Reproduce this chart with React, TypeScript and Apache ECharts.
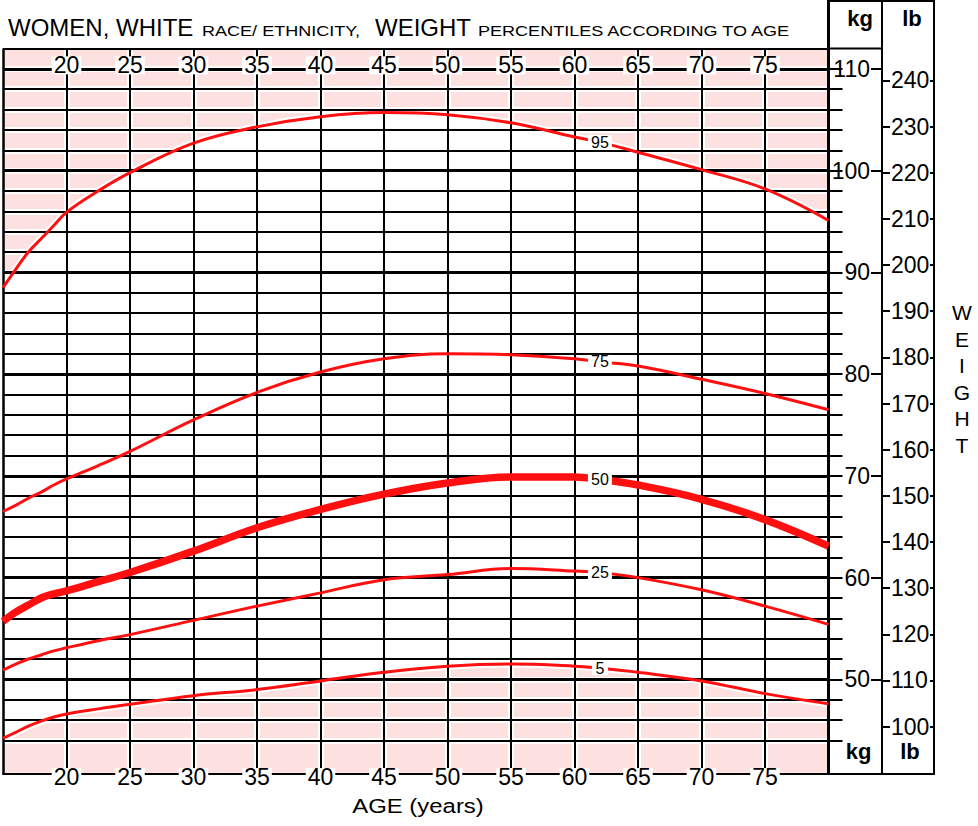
import React, { useEffect, useRef } from 'react';
import * as echarts from 'echarts';

// ---- data ----
const ages = [15, 16, 17, 18, 19, 20, 22.5, 25, 30, 35, 40, 45, 50, 55, 60, 62, 65, 70, 75, 80];
const p95 = [88.5, 90.3, 92.0, 93.3, 94.6, 95.9, 98.0, 99.8, 102.7, 104.3, 105.3, 105.7, 105.5, 104.7, 103.3, 102.8, 101.8, 100.1, 98.2, 95.1];
const p75 = [66.5, 67.1, 67.8, 68.4, 69.1, 69.7, 71.0, 72.4, 75.5, 78.2, 80.2, 81.5, 82.0, 81.9, 81.5, 81.2, 80.8, 79.5, 78.1, 76.5];
const p50 = [55.7, 56.6, 57.3, 58.0, 58.4, 58.7, 59.6, 60.5, 62.6, 64.9, 66.7, 68.2, 69.3, 69.9, 69.9, 69.65, 69.1, 67.7, 65.7, 63.1];
const p25 = [50.9, 51.5, 52.0, 52.4, 52.8, 53.1, 53.8, 54.4, 55.8, 57.2, 58.5, 59.8, 60.3, 60.9, 60.65, 60.5, 60.0, 58.8, 57.2, 55.4];
const p5 = [44.2, 44.8, 45.4, 45.9, 46.3, 46.6, 47.1, 47.55, 48.4, 49.0, 49.85, 50.7, 51.3, 51.5, 51.3, 51.1, 50.7, 49.85, 48.6, 47.6];
const percentileNames = ['95', '75', '50', '25', '5'];
const LABEL_AGE = 62;

const ageTicks = [20, 25, 30, 35, 40, 45, 50, 55, 60, 65, 70, 75];
const kgTicks = [50, 60, 70, 80, 90, 100, 110];
const lbTicks = [100, 110, 120, 130, 140, 150, 160, 170, 180, 190, 200, 210, 220, 230, 240];

const AGE_MIN = 15;
const AGE_MAX = 80;
const KG_MIN = 40.7;
const KG_MAX = 112;
const LB_PER_KG = 2.20462;

const FONT = "'Liberation Sans', Arial, Helvetica, sans-serif";
const RED = '#ff1010';
const PINK = '#fde0e0';
const BLACK = '#000';
const SMOOTH = 0.4;

export default function App() {
  const ref = useRef<HTMLDivElement>(null);

  useEffect(() => {
    const chart = echarts.init(ref.current!, null, { renderer: 'svg' });

    const W = 978;
    const H = 826;
    const gridTop = 48.5;
    const gridBottomPx = 774;
    const gridLeft = 3;
    const gridRightPx = 828.5;
    const pxPerKg = (gridBottomPx - gridTop) / (KG_MAX - KG_MIN);

    const gridKg: number[] = [];
    for (let v = 44; v <= 110; v += 2) gridKg.push(v);
    const minorKg = gridKg.filter((v) => v % 10 !== 0);

    const solid = (color: string, width: number) => ({ color, width, type: 'solid' as const, opacity: 1 });

    const curve = (name: string, values: number[], width: number, labelW: number) => ({
      type: 'line',
      name,
      z: 10,
      silent: true,
      smooth: SMOOTH,
      symbol: 'none',
      showSymbol: true,
      showAllSymbol: true,
      lineStyle: { color: RED, width },
      emphasis: { disabled: true },
      data: ages.map((a, i) =>
        a === LABEL_AGE
          ? {
              value: [a, values[i]],
              symbol: 'rect',
              symbolSize: [labelW, 14],
              itemStyle: { color: '#fff' },
              label: {
                show: true,
                position: 'inside',
                formatter: name,
                color: BLACK,
                fontSize: 16,
                fontFamily: FONT,
              },
            }
          : [a, values[i]]
      ),
    });

    const pink = (values: number[], origin: 'start' | 'end') => ({
      type: 'line',
      z: 1,
      silent: true,
      smooth: SMOOTH,
      symbol: 'none',
      lineStyle: { color: '#fff', width: 7 },
      areaStyle: { color: PINK, opacity: 1, origin },
      emphasis: { disabled: true },
      data: ages.map((a, i) => [a, values[i]]),
    });

    const markLineBase = {
      silent: true,
      symbol: ['none', 'none'],
      label: { show: false },
      emphasis: { disabled: true },
      animation: false,
    };

    const haloSeries = {
      type: 'line',
      z: 2,
      silent: true,
      symbol: 'none',
      lineStyle: { width: 0 },
      data: [[AGE_MIN, KG_MIN]],
      markLine: {
        ...markLineBase,
        z: 2,
        data: [
          ...gridKg.map((v) => ({ yAxis: v, lineStyle: solid('#fff', 6) })),
          ...ageTicks.map((v) => ({ xAxis: v, lineStyle: solid('#fff', 6) })),
        ],
      },
    };

    const gridSeries = {
      type: 'line',
      z: 3,
      silent: true,
      symbol: 'none',
      lineStyle: { width: 0 },
      data: [[AGE_MIN, KG_MIN]],
      markLine: {
        ...markLineBase,
        z: 3,
        data: [
          ...minorKg.map((v) => ({ yAxis: v, lineStyle: solid(BLACK, 2) })),
          ...kgTicks.map((v) => ({ yAxis: v, lineStyle: solid(BLACK, 3) })),
          ...ageTicks.map((v) => ({ xAxis: v, lineStyle: solid(BLACK, 2) })),
          { xAxis: AGE_MIN, lineStyle: solid(BLACK, 2.5) },
          { xAxis: AGE_MAX, lineStyle: solid(BLACK, 3) },
          { yAxis: KG_MAX, lineStyle: solid(BLACK, 2) },
          { yAxis: KG_MIN, lineStyle: solid(BLACK, 2) },
        ],
      },
    };

    const numLabel = {
      fontSize: 23,
      fontFamily: FONT,
      color: BLACK,
    };

    const xLabel = {
      ...numLabel,
      customValues: ageTicks,
      backgroundColor: '#fff',
      padding: [0, 2],
      lineHeight: 18,
    };

    const yBase = {
      type: 'value',
      min: KG_MIN,
      max: KG_MAX,
      splitLine: { show: false },
      axisLine: { show: false },
    };

    const text = (t: string, x: number, y: number, size: number, opts: any = {}) => ({
      type: 'text',
      x,
      y,
      scaleX: opts.scaleX ?? 1,
      silent: true,
      style: {
        text: t,
        fontSize: size,
        fontFamily: FONT,
        fontWeight: opts.bold ? 'bold' : 'normal',
        fill: BLACK,
        align: opts.align ?? 'left',
        verticalAlign: 'middle',
        textAlign: opts.align ?? 'left',
        textVerticalAlign: 'middle',
        lineHeight: opts.lineHeight,
      },
    });

    const line = (x1: number, y1: number, x2: number, y2: number, w: number) => ({
      type: 'line',
      silent: true,
      shape: { x1, y1, x2, y2 },
      style: { stroke: BLACK, lineWidth: w },
    });

    const option: any = {
      animation: false,
      backgroundColor: '#fff',
      textStyle: { fontFamily: FONT },
      grid: {
        left: gridLeft,
        right: W - gridRightPx,
        top: gridTop,
        bottom: H - gridBottomPx,
        containLabel: false,
        outerBoundsMode: 'none',
      },
      xAxis: [
        {
          type: 'value',
          min: AGE_MIN,
          max: AGE_MAX,
          interval: 5,
          position: 'bottom',
          z: 12,
          axisLine: { show: true, lineStyle: { color: BLACK, width: 2 } },
          axisTick: { show: false },
          splitLine: { show: false },
          axisLabel: { ...xLabel, margin: -6 },
        },
        {
          type: 'value',
          min: AGE_MIN,
          max: AGE_MAX,
          interval: 5,
          position: 'top',
          offset: -(KG_MAX - 110) * pxPerKg,
          z: 12,
          axisLine: { show: false },
          axisTick: { show: false },
          splitLine: { show: false },
          axisLabel: { ...xLabel, margin: -5.5 },
        },
      ],
      yAxis: [
        { ...yBase, show: false },
        {
          ...yBase,
          position: 'right',
          offset: 0,
          axisTick: { show: true, length: 14, customValues: gridKg, lineStyle: { color: BLACK, width: 2 } },
          axisLabel: { show: false },
        },
        {
          ...yBase,
          position: 'right',
          offset: 882 - gridRightPx,
          axisTick: { show: true, inside: true, length: 11, customValues: kgTicks, lineStyle: { color: BLACK, width: 2 } },
          axisLabel: { ...numLabel, inside: true, margin: 12, customValues: kgTicks },
        },
        {
          type: 'value',
          min: KG_MIN * LB_PER_KG,
          max: KG_MAX * LB_PER_KG,
          position: 'right',
          offset: 882 - gridRightPx,
          splitLine: { show: false },
          axisLine: { show: false },
          axisTick: { show: true, length: 8, customValues: lbTicks, lineStyle: { color: BLACK, width: 2 } },
          axisLabel: { ...numLabel, margin: 9, customValues: lbTicks },
        },
        {
          type: 'value',
          min: KG_MIN * LB_PER_KG,
          max: KG_MAX * LB_PER_KG,
          position: 'right',
          offset: 934 - gridRightPx,
          splitLine: { show: false },
          axisLine: { show: false },
          axisTick: { show: true, inside: true, length: 4, customValues: lbTicks, lineStyle: { color: BLACK, width: 2 } },
          axisLabel: { show: false },
        },
      ],
      series: [
        pink(p95, 'end'),
        pink(p5, 'start'),
        haloSeries,
        gridSeries,
        curve(percentileNames[0], p95, 3, 24),
        curve(percentileNames[1], p75, 3, 24),
        curve(percentileNames[2], p50, 7.5, 24),
        curve(percentileNames[3], p25, 3, 24),
        curve(percentileNames[4], p5, 3, 16),
      ],
      graphic: [
        line(gridRightPx, 0, gridRightPx, gridBottomPx, 3),
        line(882, 0, 882, gridBottomPx, 2),
        line(934, 0, 934, gridBottomPx + 1, 2),
        line(gridRightPx, 1, 935, 1, 2),
        line(gridRightPx, gridTop, 882, gridTop, 2),
        line(gridRightPx, gridBottomPx, 935, gridBottomPx, 2),
        text('WOMEN, WHITE', 8, 27, 24),
        text('RACE/ ETHNICITY,', 202, 30.5, 14, { scaleX: 1.29 }),
        text('WEIGHT', 375, 27, 24),
        text('PERCENTILES ACCORDING TO AGE', 478, 30.5, 14, { scaleX: 1.29 }),
        text('kg', 860, 18, 22, { bold: true, align: 'center' }),
        text('lb', 912, 18, 22, { bold: true, align: 'center' }),
        text('kg', 858.5, 751, 22, { bold: true, align: 'center' }),
        text('lb', 910, 751, 22, { bold: true, align: 'center' }),
        text('W\nE\nI\nG\nH\nT', 962, 379, 21, { align: 'center', lineHeight: 26.5 }),
        text('AGE (years)', 418, 806, 21, { align: 'center', scaleX: 1.14 }),
      ],
    };

    chart.setOption(option);
    return () => chart.dispose();
  }, []);

  return (
    <div
      ref={ref}
      style={{ position: 'absolute', left: 0, top: 0, width: 978, height: 826, background: '#fff' }}
    />
  );
}
